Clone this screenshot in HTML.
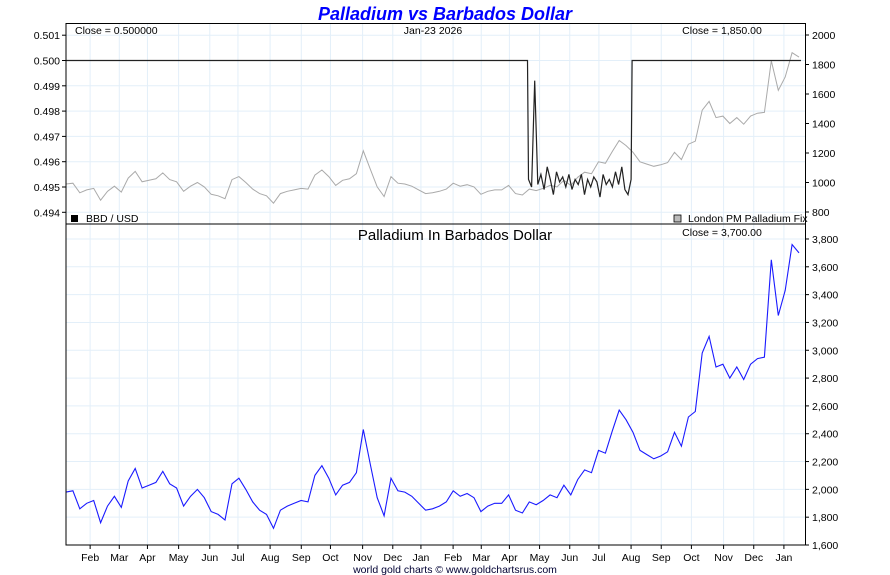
<!DOCTYPE html>
<html><head><meta charset="utf-8"><style>
body{margin:0;background:#fff;}
svg{display:block;font-family:"Liberation Sans",sans-serif;}
</style></head><body>
<svg id="c" width="890" height="575" viewBox="0 0 890 575">
<text x="445" y="20" text-anchor="middle" font-size="18" font-weight="bold" font-style="italic" fill="#0000ff">Palladium vs Barbados Dollar</text>
<g id="grid"></g>
<g id="axes"></g>
<g id="series"></g>
<rect x="66" y="23.5" width="739.5" height="521.5" fill="none" stroke="#000" stroke-width="1"/>
<line x1="66" y1="224" x2="805.5" y2="224" stroke="#000"/>
<text x="75" y="34" font-size="10.5">Close = 0.500000</text>
<text x="433" y="34" text-anchor="middle" font-size="10.5">Jan-23  2026</text>
<text x="722" y="34" text-anchor="middle" font-size="10.5">Close = 1,850.00</text>
<rect x="71" y="215" width="7" height="7" fill="#000"/>
<text x="86" y="222" font-size="10.5">BBD / USD</text>
<rect x="674" y="215" width="7" height="7" fill="#bbb" stroke="#000" stroke-width="0.8"/>
<text x="688" y="222" font-size="10.5">London PM Palladium Fix</text>
<text x="455" y="240" text-anchor="middle" font-size="15">Palladium In Barbados Dollar</text>
<text x="722" y="236" text-anchor="middle" font-size="10.5">Close = 3,700.00</text>
<text x="455" y="573" text-anchor="middle" font-size="10.5" fill="#000033">world gold charts © www.goldchartsrus.com</text>
</svg>
<script>
const months = ["Feb","Mar","Apr","May","Jun","Jul","Aug","Sep","Oct","Nov","Dec","Jan","Feb","Mar","Apr","May","Jun","Jul","Aug","Sep","Oct","Nov","Dec","Jan"];
const monthDays = [24,53,81,112,143,171,203,234,263,295,325,353,385,413,441,471,501,530,562,592,622,654,684,714];
const leftTicks = [0.494,0.495,0.496,0.497,0.498,0.499,0.500,0.501];
const rightTopTicks = [800,1000,1200,1400,1600,1800,2000];
const bottomTicks = [1600,1800,2000,2200,2400,2600,2800,3000,3200,3400,3600,3800];
const palladiumBBD = [1980,1990,1860,1900,1920,1760,1880,1950,1870,2060,2150,2010,2030,2050,2130,2040,2010,1880,1950,2000,1940,1840,1820,1780,2040,2080,2000,1910,1850,1820,1720,1850,1880,1900,1920,1910,2100,2170,2080,1960,2030,2050,2120,2430,2180,1940,1810,2080,1990,1980,1950,1900,1850,1860,1880,1910,1990,1950,1970,1940,1840,1880,1900,1900,1960,1850,1830,1910,1890,1920,1960,1940,2030,1960,2070,2140,2120,2280,2260,2420,2570,2500,2410,2280,2250,2220,2240,2270,2410,2310,2520,2560,2980,3100,2880,2900,2800,2880,2790,2900,2940,2950,3650,3250,3430,3760,3700];
const pegRate = 0.5;
const rateNoise = [0.4953,0.4950,0.4992,0.4951,0.4955,0.4949,0.4958,0.4953,0.4947,0.4956,0.4952,0.4954,0.4950,0.4955,0.4949,0.4953,0.4951,0.4955,0.4947,0.4953,0.4950,0.4954,0.4952,0.4946,0.4955,0.4951,0.4953,0.4950,0.4956,0.4951,0.4958,0.4949,0.4947,0.4953];
const rateStartDay = 460, rateEndDay = 562, totalDays = 731;

const NS="http://www.w3.org/2000/svg";
const X0=66, X1=801;
const xDay = d => X0 + d*(X1-X0)/totalDays;
const xWeek = i => X0 + i*(799-X0)/(palladiumBBD.length-1);
const yLeft = v => 60.5 + (0.5 - v)*25300;
const yRightTop = v => 182.5 - (v-1000)*0.1475;
const yBottom = v => 545 - (v-1600)*0.1391;
function el(tag, attrs, parent){const e=document.createElementNS(NS,tag);for(const k in attrs)e.setAttribute(k,attrs[k]);parent.appendChild(e);return e;}
const grid=document.getElementById('grid'), axes=document.getElementById('axes'), series=document.getElementById('series');
const gc="#e3eff9";
monthDays.forEach((d,i)=>{
  const x=xDay(d);
  const g=el('line',{x1:x,y1:23.5,x2:x,y2:545,stroke:gc},grid);
  
  
  const t=el('line',{x1:x,y1:545,x2:x,y2:549,stroke:'#000'},axes);
  
  
  const l=el('text',{x:x,y:561,'text-anchor':'middle','font-size':'10.5'},axes);
  l.textContent=months[i];
  
  
});
leftTicks.forEach(v=>{
  const y=yLeft(v);
  const g=el('line',{x1:66,y1:y,x2:805.5,y2:y,stroke:gc},grid);
  
  
  el('line',{x1:62,y1:y,x2:66,y2:y,stroke:'#000'},axes);
  const l=el('text',{x:60,y:y+4,'text-anchor':'end','font-size':'10.5'},axes);
  l.textContent=v.toFixed(3);
  
  
});
rightTopTicks.forEach(v=>{
  const y=yRightTop(v);
  el('line',{x1:805.5,y1:y,x2:809,y2:y,stroke:'#000'},axes);
  const l=el('text',{x:812,y:y+4,'font-size':'10.5'},axes);
  l.textContent=v;
  
  
});
bottomTicks.forEach(v=>{
  const y=yBottom(v);
  const g=el('line',{x1:66,y1:y,x2:805.5,y2:y,stroke:gc},grid);
  
  
  el('line',{x1:805.5,y1:y,x2:809,y2:y,stroke:'#000'},axes);
  const l=el('text',{x:812,y:y+4,'font-size':'10.5'},axes);
  l.textContent=v.toLocaleString('en-US');
  
  
});
const usd = palladiumBBD.map(v=>v*pegRate);
const gp=el('path',{d:usd.map((v,i)=>(i?'L':'M')+xWeek(i).toFixed(1)+','+yRightTop(v).toFixed(1)).join(''),fill:'none',stroke:'#aaa','stroke-width':1},series);


let pts=[[xDay(0),yLeft(pegRate)],[xDay(rateStartDay-1),yLeft(pegRate)]];
const step=(rateEndDay-rateStartDay)/(rateNoise.length-1);
rateNoise.forEach((v,i)=>pts.push([xDay(rateStartDay+i*step),yLeft(v)]));
pts.push([xDay(rateEndDay+1),yLeft(pegRate)],[xDay(totalDays),yLeft(pegRate)]);
const rp=el('path',{d:pts.map((p,i)=>(i?'L':'M')+p[0].toFixed(1)+','+p[1].toFixed(1)).join(''),fill:'none',stroke:'#222','stroke-width':1.2},series);


const bp=el('path',{d:palladiumBBD.map((v,i)=>(i?'L':'M')+xWeek(i).toFixed(1)+','+yBottom(v).toFixed(1)).join(''),fill:'none',stroke:'#1a1aff','stroke-width':1.1},series);


</script>
</body></html>
